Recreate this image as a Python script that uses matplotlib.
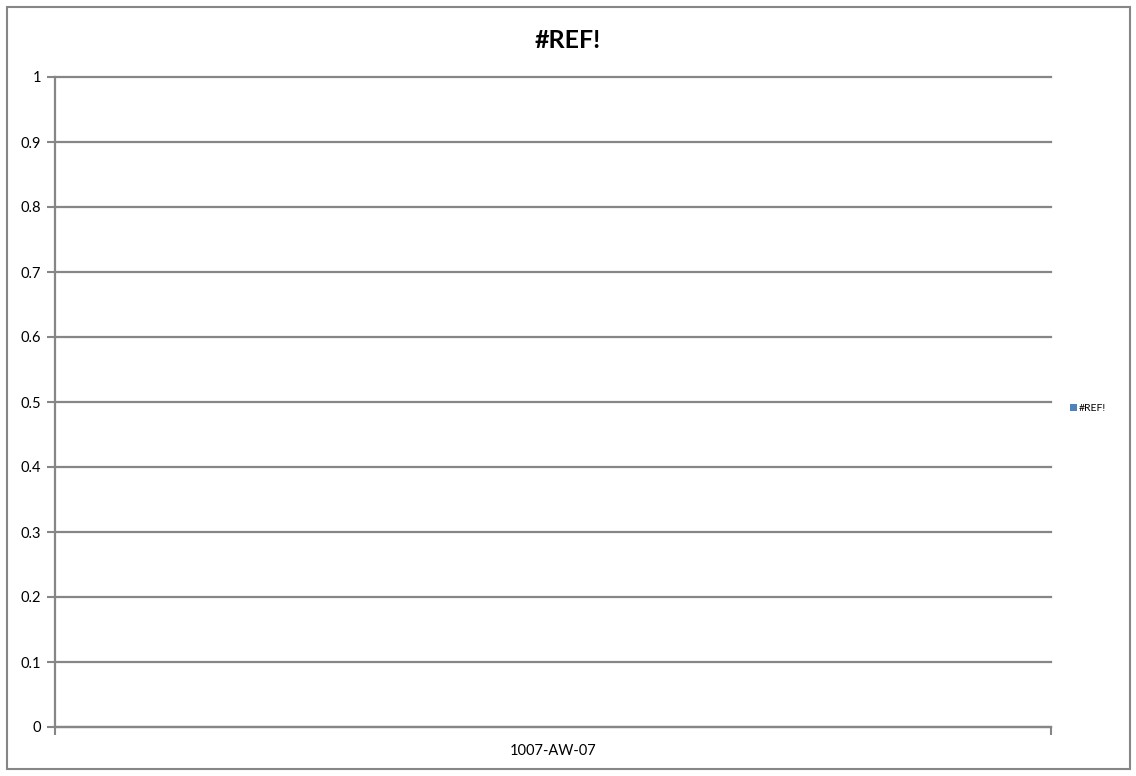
import matplotlib
matplotlib.use('Agg')
import matplotlib.pyplot as plt
from matplotlib.patches import Rectangle

categories = ['1007-AW-07']
values = [0]
series_name = '#REF!'
chart_title = '#REF!'
y_ticks = [0, 0.1, 0.2, 0.3, 0.4, 0.5, 0.6, 0.7, 0.8, 0.9, 1]

plt.rcParams['font.family'] = ['Lato', 'DejaVu Sans']

fig = plt.figure(figsize=(11.36, 7.76), dpi=100)
# outer chart border
fig.patches.append(Rectangle((7 / 1136, 7 / 776), 1123 / 1136, 762 / 776,
                             transform=fig.transFigure, fill=False,
                             edgecolor='#868686', linewidth=1.5))

ax = fig.add_axes([55 / 1136, 1 - 727 / 776, 996 / 1136, 650 / 776])
ax.bar(range(len(categories)), values, width=0.6, color='#4F81BD', label=series_name)

ax.set_ylim(0, 1)
ax.set_xlim(-0.5, len(categories) - 0.5)
ax.set_yticks(y_ticks)
ax.set_yticklabels([f'{t:g}' for t in y_ticks], fontsize=10.5)
ax.yaxis.grid(True, color='#868686', linewidth=1.6)
ax.set_axisbelow(True)
for gl in ax.get_ygridlines():
    gl.set_clip_on(False)

ax.set_xticks([i - 0.5 for i in range(len(categories) + 1)])
ax.set_xticklabels([])
ax.set_xticks(range(len(categories)), minor=True)
ax.set_xticklabels(categories, minor=True, fontsize=10.5)
ax.tick_params(axis='x', which='minor', length=0, pad=12)
ax.tick_params(axis='x', which='major', length=6, width=1.5, color='#868686')
ax.tick_params(axis='y', length=6, width=1.5, color='#868686', pad=4)

for side in ['top', 'right']:
    ax.spines[side].set_visible(False)
for side in ['left', 'bottom']:
    ax.spines[side].set_color('#868686')
    ax.spines[side].set_linewidth(1.6)

fig.text(568 / 1136, 1 - 40 / 776, chart_title, ha='center', va='center',
         fontsize=18, fontweight='bold')

ax.legend(loc='center left', bbox_to_anchor=(1.01, 0.49), frameon=False,
          fontsize=7.5, handlelength=0.6, handleheight=0.6, handletextpad=0.2)

fig.savefig('out.png', dpi=100)
